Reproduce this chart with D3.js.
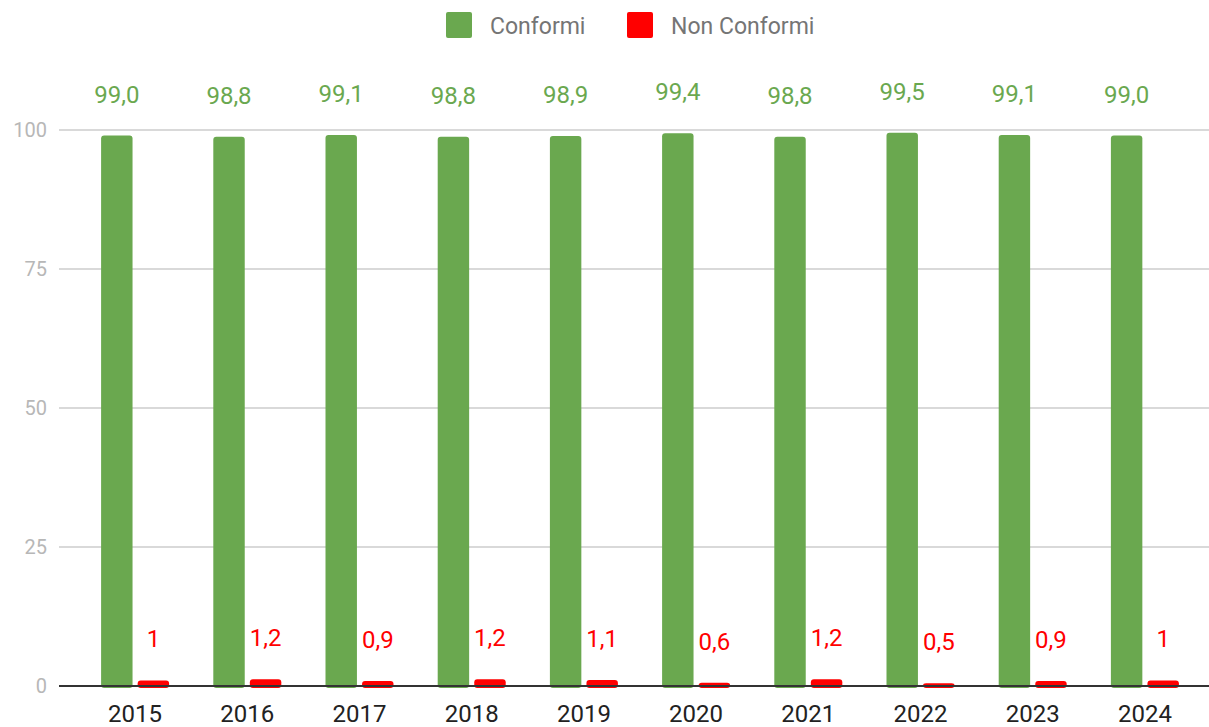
<!DOCTYPE html>
<html>
<head>
<meta charset="utf-8">
<script src="https://cdn.jsdelivr.net/npm/d3@7"></script>
<style>
  body { margin: 0; background: #fff; }
  text { font-family: Roboto, "Noto Sans", sans-serif; }
</style>
</head>
<body>
<div id="chart"></div>
<script>
// Data
var years = ["2015", "2016", "2017", "2018", "2019", "2020", "2021", "2022", "2023", "2024"];
var conformi = [99.0, 98.8, 99.1, 98.8, 98.9, 99.4, 98.8, 99.5, 99.1, 99.0];
var nonConformi = [1, 1.2, 0.9, 1.2, 1.1, 0.6, 1.2, 0.5, 0.9, 1];
var yTicks = [0, 25, 50, 75, 100];
var seriesNames = ["Conformi", "Non Conformi"];
var seriesColors = ["#6aa84f", "#ff0000"];

var svgWidth = 1209;
var svgHeight = 727;

var svg = d3.select("#chart")
    .append("svg")
    .attr("width", svgWidth)
    .attr("height", svgHeight);

// Scales
var x = d3.scaleBand()
    .domain(years)
    .range([79, 1201])
    .paddingInner(0)
    .paddingOuter(0);

var xSeries = d3.scaleBand()
    .domain(seriesNames)
    .range([x.bandwidth() / 2 - 34, x.bandwidth() / 2 + 34])
    .paddingInner(0.14);

var y = d3.scaleLinear()
    .domain([0, 100])
    .range([686, 130]);

// Gridlines
svg.append("g")
    .selectAll("line")
    .data(yTicks.filter(d => d !== 0))
    .enter()
    .append("line")
    .attr("x1", 59)
    .attr("x2", 1209)
    .attr("y1", d => y(d))
    .attr("y2", d => y(d))
    .attr("stroke", "#cccccc")
    .attr("stroke-width", 1.5);

// y tick labels
svg.append("g")
    .selectAll("text")
    .data(yTicks)
    .enter()
    .append("text")
    .attr("x", 47)
    .attr("y", d => y(d) + 7)
    .attr("text-anchor", "end")
    .attr("font-size", "20px")
    .attr("fill", "#b7b7b7")
    .text(d => d);

var fmtGreen = function(v) { return d3.format(".1f")(v).replace(".", ","); };
var fmtRed = function(v) { return String(v).replace(".", ","); };

var rows = years.map(function(yr, i) {
    return { year: yr, values: [conformi[i], nonConformi[i]] };
});

var groups = svg.append("g")
    .selectAll("g")
    .data(rows)
    .enter()
    .append("g")
    .attr("transform", d => `translate(${x(d.year)},0)`);

groups.selectAll("rect")
    .data(d => d.values.map((v, j) => ({ key: seriesNames[j], value: v, j: j })))
    .enter()
    .append("rect")
    .attr("x", d => xSeries(d.key))
    .attr("width", xSeries.bandwidth())
    .attr("y", d => y(d.value))
    .attr("height", d => y(0) - y(d.value) + 2)
    .attr("rx", 3)
    .attr("fill", d => seriesColors[d.j]);

groups.selectAll("text.val")
    .data(d => d.values.map((v, j) => ({ key: seriesNames[j], value: v, j: j })))
    .enter()
    .append("text")
    .attr("class", "val")
    .attr("x", d => xSeries(d.key) + xSeries.bandwidth() / 2)
    .attr("y", d => y(d.value) - 33)
    .attr("text-anchor", "middle")
    .attr("font-size", "24px")
    .attr("fill", d => seriesColors[d.j])
    .text(d => d.j === 0 ? fmtGreen(d.value) : fmtRed(d.value));

// zero baseline
svg.append("line")
    .attr("x1", 59)
    .attr("x2", 1209)
    .attr("y1", y(0))
    .attr("y2", y(0))
    .attr("stroke", "#333333")
    .attr("stroke-width", 2);

// x labels
svg.append("g")
    .selectAll("text")
    .data(years)
    .enter()
    .append("text")
    .attr("x", d => x(d) + x.bandwidth() / 2)
    .attr("y", 722)
    .attr("text-anchor", "middle")
    .attr("font-size", "24px")
    .attr("fill", "#222222")
    .text(d => d);

// Legend
var legendX = [446, 627];
var legend = svg.append("g");
legend.selectAll("rect")
    .data(seriesNames)
    .enter()
    .append("rect")
    .attr("x", (d, i) => legendX[i])
    .attr("y", 12)
    .attr("width", 26)
    .attr("height", 26)
    .attr("rx", 2)
    .attr("fill", (d, i) => seriesColors[i]);

legend.selectAll("text")
    .data(seriesNames)
    .enter()
    .append("text")
    .attr("x", (d, i) => legendX[i] + 44)
    .attr("y", 34)
    .attr("font-size", "23px")
    .attr("fill", "#757575")
    .text(d => d);
</script>
</body>
</html>
